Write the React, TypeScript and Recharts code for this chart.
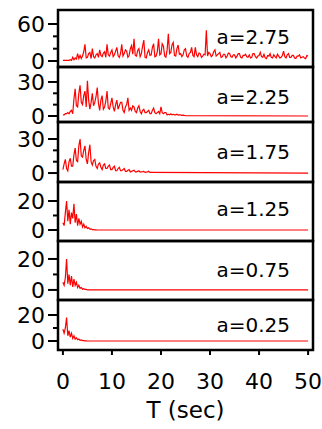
import React from 'react';
import { LineChart, Line, XAxis, YAxis, ReferenceArea, Label } from 'recharts';

// all series are sampled every 0.25 s from T=0
const STEP = 0.25;
const END_T = 50;

const xTicks = [0, 10, 20, 30, 40, 50];

// a=2.75, 0 .. 50 s (one row per second)
const a275 = [
  1, 1, 1, 1,   1, 1, 2, 1,   6, 2, 5, 3,   12, 4, 9, 4,   8, 15, 27, 5,
  6, 12, 14, 4,   20, 7, 5, 10,   12, 6, 18, 9,   7, 13, 15, 6,   27, 10, 8, 14,
  18, 7, 10, 16,   22, 9, 6, 12,   27, 8, 12, 18,   16, 6, 9, 20,   25, 11, 36, 9,
  8, 17, 20, 7,   12, 24, 34, 6,   5, 14, 18, 9,   10, 22, 28, 7,   8, 15, 36, 10,
  12, 28, 24, 8,   6, 18, 44, 12,   14, 26, 30, 9,   8, 20, 26, 11,   12, 7, 10, 18,
  20, 8, 6, 12,   14, 22, 9, 7,   22, 10, 7, 13,   12, 6, 8, 11,   10, 50, 8, 14,
  12, 7, 9, 15,   18, 8, 10, 12,   14, 6, 7, 11,   11, 5, 8, 13,   12, 7, 6, 10,
  10, 5, 8, 12,   12, 6, 5, 9,   9, 11, 7, 6,   10, 5, 6, 12,   12, 7, 5, 8,
  9, 14, 7, 6,   11, 5, 4, 9,   8, 12, 6, 5,   10, 7, 5, 11,   8, 5, 6, 9,
  16, 7, 5, 10,   12, 6, 6, 9,   9, 5, 4, 8,   8, 10, 5, 6,   7, 5, 4, 9,
  8,
];

// a=2.25, 0 .. 25 s
const a225 = [
  1, 1, 2, 2,   3, 2, 4, 5,   2, 15, 24, 9,   8, 20, 27, 12,   10, 18, 22, 8,
  31, 14, 6, 12,   20, 9, 12, 17,   25, 11, 5, 14,   18, 6, 8, 13,   22, 7, 6, 11,
  16, 8, 4, 10,   14, 6, 9, 12,   12, 5, 3, 8,   10, 16, 5, 7,   5, 9, 8, 4,
  3, 7, 9, 4,   2, 5, 6, 3,   3, 4, 5, 2,   2, 5, 7, 3,   2, 3, 4, 2,
  8, 3, 2, 3,   3, 1, 1.5, 1,   2, 1, 1.5, 1,   1, 1.5, 0.8, 1,   1, 0.5, 0.8, 0.5,
  0.4,
];

// a=1.75, 0 .. 18 s
const a175 = [
  3, 8, 12, 4,   2, 10, 13, 6,   6, 16, 22, 11,   10, 24, 30, 15,   14, 20, 24, 12,
  8, 18, 25, 10,   7, 11, 12, 6,   4, 8, 9, 5,   3, 7, 8, 4,   4, 6, 7, 3,
  3, 5, 6, 2,   2, 4, 5, 2,   2, 3, 4, 1.5,   1.5, 2.5, 3, 1,   1.5, 2, 2.5, 1,
  1, 1.5, 2, 0.8,   1, 1.2, 1.5, 0.6,   0.8, 1, 1.5, 0.5,
  0.5,
];

// a=1.25, 0 .. 7 s
const a125 = [
  5, 3, 12, 20,   6, 14, 4, 12,   8, 18, 5, 11,   3, 8, 4, 6,   2, 4, 1.5, 2.5,
  1, 1.5, 0.6, 0.8,   0.3, 0.3, 0.1, 0.1,
  0,
];

// a=0.75, 0 .. 5.5 s
const a075 = [
  5, 3, 8, 20,   4, 10, 3, 9,   2, 7, 3, 5,   1.5, 3, 1, 1.5,   0.5, 0.8, 0.3, 0.3,
  0.1, 0.1, 0,
];

// a=0.25, 0 .. 5 s
const a025 = [
  9, 6, 10, 18,   4, 8, 3, 6,   2, 4, 1.5, 2.5,   1, 1.5, 0.6, 0.8,   0.3, 0.3, 0.1, 0.1,
  0,
];

const toRows = (vals: number[]) => {
  const rows = vals.map((v, i) => ({ t: i * STEP, v }));
  if (rows[rows.length - 1].t < END_T) rows.push({ t: END_T, v: 0 });
  return rows;
};

const panels = [
  { label: 'a=2.75', rows: toRows(a275), top: 10, h: 57, domain: [-9.7, 82.7], ticks: [0, 20, 40, 60], major: [0, 60], labelY: 37 },
  { label: 'a=2.25', rows: toRows(a225), top: 67, h: 55, domain: [-5.3, 43.2], ticks: [0, 10, 20, 30], major: [0, 30], labelY: 97 },
  { label: 'a=1.75', rows: toRows(a175), top: 122, h: 60, domain: [-7.9, 45], ticks: [0, 10, 20, 30], major: [0, 30], labelY: 152 },
  { label: 'a=1.25', rows: toRows(a125), top: 182, h: 59, domain: [-7.6, 33.1], ticks: [0, 10, 20], major: [0, 20], labelY: 209 },
  { label: 'a=0.75', rows: toRows(a075), top: 241, h: 59, domain: [-6.5, 31.6], ticks: [0, 10, 20], major: [0, 20], labelY: 270 },
  { label: 'a=0.25', rows: toRows(a025), top: 300, h: 50, domain: [-6.9, 31.5], ticks: [0, 10, 20], major: [0, 20], labelY: 325 },
];

const YTick = (props: any) => {
  const { x, y, payload, major } = props;
  const isMajor = major.includes(payload.value);
  return (
    <g>
      <line x1={x - (isMajor ? 10 : 5)} x2={x} y1={y} y2={y} stroke="#000" strokeWidth={2} />
      {isMajor && (
        <text x={x - 13} y={y} dy="0.36em" textAnchor="end" fontSize={22} fill="#000">
          {payload.value}
        </text>
      )}
    </g>
  );
};

const PAD = 2;

export default function App() {
  return (
    <div style={{ position: 'absolute', left: 0, top: 0, width: 322, height: 429, background: '#fff', fontFamily: '"DejaVu Sans", sans-serif' }}>
      {panels.map((p, idx) => {
        const last = idx === panels.length - 1;
        const axisH = last ? 79 : 6;
        return (
          <div key={p.label} style={{ position: 'absolute', left: 0, top: p.top - PAD }}>
            <LineChart width={322} height={p.h + PAD + axisH} data={p.rows} margin={{ top: PAD, right: 9, bottom: 0, left: 0 }}>
              <XAxis
                dataKey="t"
                type="number"
                domain={[-1, 51]}
                allowDataOverflow
                ticks={xTicks}
                interval={0}
                height={axisH}
                axisLine={false}
                tickSize={5}
                tickMargin={18}
                tickLine={{ stroke: '#000', strokeWidth: 2 }}
                tick={last ? { fill: '#000', fontSize: 22 } : false}
              >
                {last && <Label value="T (sec)" position="insideBottom" offset={11} fill="#000" fontSize={23} />}
              </XAxis>
              <YAxis
                type="number"
                domain={p.domain}
                allowDataOverflow
                ticks={p.ticks}
                interval={0}
                width={58}
                axisLine={false}
                tickLine={false}
                tickSize={0}
                tickMargin={0}
                tick={(tp: any) => <YTick {...tp} major={p.major} />}
              />
              <Line type="linear" dataKey="v" stroke="#ff0000" strokeWidth={1.2} dot={false} isAnimationActive={false} />
              <ReferenceArea x1={-1} x2={51} y1={p.domain[0]} y2={p.domain[1]} fill="none" stroke="#000" strokeWidth={2.5} />
            </LineChart>
          </div>
        );
      })}
      <svg width={322} height={429} style={{ position: 'absolute', left: 0, top: 0, pointerEvents: 'none' }}>
        {panels.map((p) => (
          <text key={p.label} x={290} y={p.labelY + 7} textAnchor="end" fontSize={20} fill="#000">
            {p.label}
          </text>
        ))}
      </svg>
    </div>
  );
}
